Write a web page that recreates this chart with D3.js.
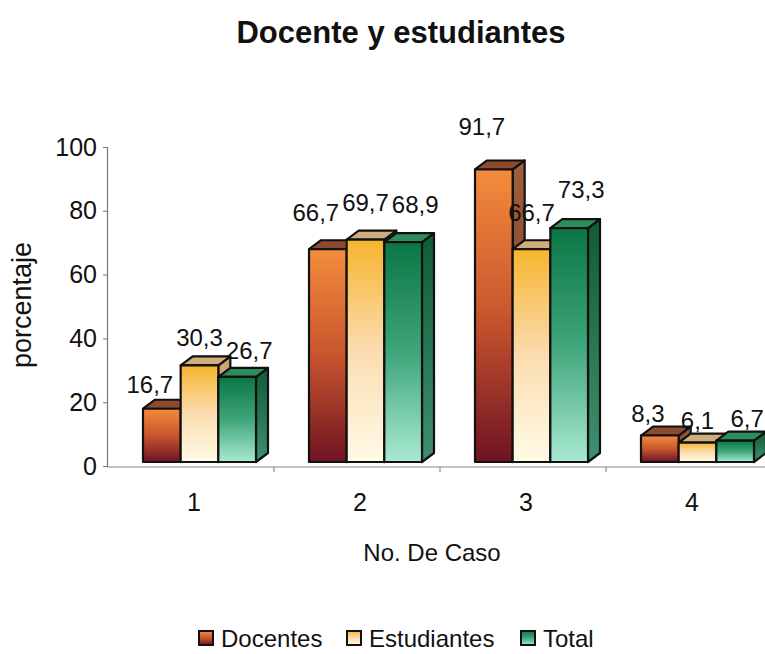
<!DOCTYPE html>
<html>
<head>
<meta charset="utf-8">
<script src="https://cdn.jsdelivr.net/npm/d3@7"></script>
<style>
  body { margin: 0; background: #fff; }
  text { font-family: "Liberation Sans", Arial, sans-serif; fill: #111; }
</style>
</head>
<body>
<div id="chart"></div>
<script>
// Data
const categories = ["1", "2", "3", "4"];
const series = ["Docentes", "Estudiantes", "Total"];
const docentes = [16.7, 66.7, 91.7, 8.3];
const estudiantes = [30.3, 69.7, 66.7, 6.1];
const total = [26.7, 68.9, 73.3, 6.7];
const yTicks = [0, 20, 40, 60, 80, 100];

const values = [docentes, estudiantes, total];

const W = 765, H = 654;
const depth = { dx: 12, dy: 9 };
const FONT = "'Liberation Sans', Arial, sans-serif";

const svg = d3.select("#chart")
    .append("svg")
    .attr("width", W)
    .attr("height", H);

// Colours per series: front gradient stops, top face, side gradient
const palette = [
    { front: ["#f28c3c", "#c9552e", "#6e1322"], top: "#8c4a2e", side: ["#a0603c", "#6a2a1a"] },
    { front: ["#f7b52e", "#fbdcb0", "#fffbe6"], top: "#cfae7c", side: ["#c9a06a", "#e8d2a8"] },
    { front: ["#0b7644", "#3fa57a", "#a9ead2"], top: "#2f8c5c", side: ["#0f5c36", "#3f9070"] }
];

const defs = svg.append("defs");
palette.forEach((p, i) => {
    const g = defs.append("linearGradient")
        .attr("id", "front" + i)
        .attr("x1", 0).attr("y1", 0).attr("x2", 0).attr("y2", 1);
    g.append("stop").attr("offset", "0%").attr("stop-color", p.front[0]);
    g.append("stop").attr("offset", "50%").attr("stop-color", p.front[1]);
    g.append("stop").attr("offset", "100%").attr("stop-color", p.front[2]);
    const s = defs.append("linearGradient")
        .attr("id", "side" + i)
        .attr("x1", 0).attr("y1", 0).attr("x2", 0).attr("y2", 1);
    s.append("stop").attr("offset", "0%").attr("stop-color", p.side[0]);
    s.append("stop").attr("offset", "100%").attr("stop-color", p.side[1]);
});

// Scales
const x = d3.scaleBand()
    .domain(categories)
    .range([108, 772]);

const xs = d3.scaleBand()
    .domain(series)
    .range([35, 35 + 113]);

const y = d3.scaleLinear()
    .domain([0, 100])
    .range([466, 147]);

// labels float higher as bars grow (perspective of the 3D plot)
const yLabel = d3.scaleLinear()
    .domain([0, 100])
    .range([442, 98]);

// Title
svg.append("text")
    .attr("x", 401)
    .attr("y", 43)
    .attr("text-anchor", "middle")
    .style("font-size", "31px")
    .style("font-weight", "bold")
    .text("Docente y estudiantes");

// Y axis
const yAxis = svg.append("g")
    .attr("transform", "translate(107,0)")
    .call(d3.axisLeft(y).tickValues(yTicks).tickSize(4).tickPadding(6));
yAxis.select(".domain").attr("stroke", "#777").attr("stroke-width", 1.2);
yAxis.selectAll(".tick line").attr("stroke", "#777");
yAxis.selectAll(".tick text")
    .style("font-size", "25px")
    .style("font-family", FONT)
    .attr("fill", "#111");

// Floor / x axis
const xAxis = svg.append("g")
    .attr("transform", `translate(0,${y(0) + 1})`)
    .call(d3.axisBottom(x).tickSize(0).tickPadding(26));
xAxis.select(".domain").attr("stroke", "#888").attr("stroke-width", 1.2)
    .attr("d", `M107,0H${W}`);
xAxis.selectAll(".tick text")
    .attr("dx", 3)
    .style("font-size", "25px")
    .style("font-family", FONT)
    .attr("fill", "#111");

// small tick marks between categories
svg.append("g")
    .selectAll("line")
    .data(categories.slice(1))
    .join("line")
    .attr("x1", d => x(d))
    .attr("x2", d => x(d))
    .attr("y1", y(0) + 1)
    .attr("y2", y(0) + 6)
    .attr("stroke", "#777");

// Axis titles
svg.append("text")
    .attr("transform", "translate(31,305) rotate(-90)")
    .attr("text-anchor", "middle")
    .style("font-size", "27px")
    .text("porcentaje");

svg.append("text")
    .attr("x", 432)
    .attr("y", 561)
    .attr("text-anchor", "middle")
    .style("font-size", "24px")
    .text("No. De Caso");

// Bars (3D boxes), drawn left to right
const bars = [];
categories.forEach((c, ci) => {
    series.forEach((s, si) => {
        bars.push({ cat: c, ser: s, si: si, v: values[si][ci] });
    });
});

const base = y(0) - 4;
const bw = xs.bandwidth();

const barG = svg.append("g")
    .attr("stroke", "#111")
    .attr("stroke-width", 2.2)
    .attr("stroke-linejoin", "round");

bars.forEach(d => {
    const x0 = x(d.cat) + xs(d.ser);
    const x1 = x0 + bw;
    const top = y(d.v) - 4;
    const g = barG.append("g");
    // side face
    g.append("path")
        .attr("d", `M${x1},${top}L${x1 + depth.dx},${top - depth.dy}L${x1 + depth.dx},${base - depth.dy}L${x1},${base}Z`)
        .attr("fill", `url(#side${d.si})`);
    // top face
    g.append("path")
        .attr("d", `M${x0},${top}L${x0 + depth.dx},${top - depth.dy}L${x1 + depth.dx},${top - depth.dy}L${x1},${top}Z`)
        .attr("fill", palette[d.si].top);
    // front face
    g.append("rect")
        .attr("x", x0)
        .attr("y", top)
        .attr("width", bw)
        .attr("height", base - top)
        .attr("fill", `url(#front${d.si})`);
});

// Data labels
const fmt = v => d3.format(".1f")(v).replace(".", ",");
svg.append("g")
    .selectAll("text")
    .data(bars)
    .join("text")
    .attr("x", d => x(d.cat) + xs(d.ser) + bw / 2 + (d.si - 1) * 12)
    .attr("y", d => yLabel(d.v))
    .attr("dy", "0.35em")
    .attr("text-anchor", "middle")
    .style("font-size", "24px")
    .text(d => fmt(d.v));

// Legend
const legendX = [199, 347, 521];
const legend = svg.append("g");
series.forEach((s, i) => {
    legend.append("rect")
        .attr("x", legendX[i])
        .attr("y", 631)
        .attr("width", 14)
        .attr("height", 14)
        .attr("fill", `url(#front${i})`)
        .attr("stroke", "#111")
        .attr("stroke-width", 2);
    legend.append("text")
        .attr("x", legendX[i] + 22)
        .attr("y", 647)
        .style("font-size", "24px")
        .text(s);
});
</script>
</body>
</html>
